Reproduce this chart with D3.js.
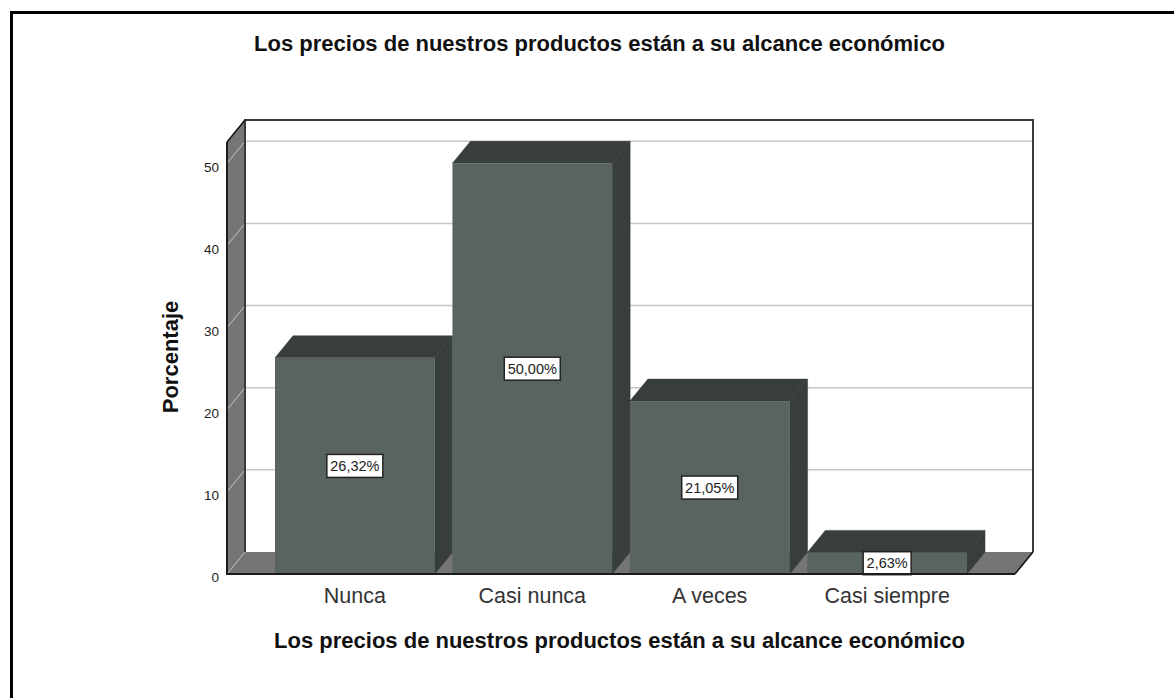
<!DOCTYPE html>
<html lang="es">
<head>
<meta charset="utf-8">
<title>Porcentaje por categoría</title>
<script src="https://cdn.jsdelivr.net/npm/d3@7/dist/d3.min.js"></script>
<style>
  html, body { margin: 0; padding: 0; background: #fff; }
  svg { display: block; font-family: "Liberation Sans", Arial, sans-serif; }
</style>
</head>
<body>
<svg id="chart" width="1174" height="698"></svg>
<script>
const titleText = "Los precios de nuestros productos están a su alcance económico";
const yAxisTitle = "Porcentaje";
const categories = ["Nunca", "Casi nunca", "A veces", "Casi siempre"];
const percentages = [26.32, 50.00, 21.05, 2.63];
const valueLabels = ["26,32%", "50,00%", "21,05%", "2,63%"];
const yTicks = [0, 10, 20, 30, 40, 50];
const yTop = 52.6;

const svg = d3.select("#chart");

// Oblique projection: depth shifts a point right and up.
const depthX = 18, depthY = 22;
const frontLeft = 227, frontRight = 1015;
const y = d3.scaleLinear().domain([0, yTop]).range([574, 142]);
const x = d3.scaleBand().domain(categories).range([275, 967]).paddingInner(0.1).paddingOuter(0);

const poly = pts => pts.map(p => p.join(",")).join(" ");
const wallGrey = "#757575", face = "#5a645e", shade = "#383e39", edge = "#3a3a3a";

// Outer frame: only the top and left rules are present.
svg.append("path").attr("d", "M11.5,698V12.5H1174")
  .attr("fill", "none").attr("stroke", "#000").attr("stroke-width", 3);

// Back wall
svg.append("rect")
  .attr("x", frontLeft + depthX).attr("y", y(yTop) - depthY)
  .attr("width", frontRight - frontLeft).attr("height", y(0) - y(yTop))
  .attr("fill", "#fff");

// Left wall and floor
svg.append("polygon").attr("fill", wallGrey).attr("points", poly([
  [frontLeft, y(yTop)], [frontLeft + depthX, y(yTop) - depthY],
  [frontLeft + depthX, y(0) - depthY], [frontLeft, y(0)]]));
svg.append("polygon").attr("fill", wallGrey).attr("points", poly([
  [frontLeft, y(0)], [frontLeft + depthX, y(0) - depthY],
  [frontRight + depthX, y(0) - depthY], [frontRight, y(0)]]));

// Gridlines run across the back wall and down the left wall
const grid = svg.append("g").attr("fill", "none").attr("stroke", "#c6c6c6");
yTicks.filter(t => t > 0).forEach(t => {
  grid.append("line")
    .attr("x1", frontLeft + depthX).attr("x2", frontRight + depthX)
    .attr("y1", y(t) - depthY).attr("y2", y(t) - depthY)
    .attr("stroke-width", 1.5);
  grid.append("line")
    .attr("x1", frontLeft).attr("y1", y(t))
    .attr("x2", frontLeft + depthX).attr("y2", y(t) - depthY)
    .attr("stroke-width", 1);
});
svg.append("line").attr("stroke", "#bdbdbd")
  .attr("x1", frontLeft).attr("y1", y(0))
  .attr("x2", frontLeft + depthX).attr("y2", y(0) - depthY);

// Wall outlines
svg.append("path").attr("fill", "none").attr("stroke", edge).attr("stroke-width", 2)
  .attr("d", `M${frontLeft + depthX},${y(0) - depthY}V${y(yTop) - depthY}H${frontRight + depthX}V${y(0) - depthY}`);
svg.append("path").attr("fill", "none").attr("stroke", "#111").attr("stroke-width", 1.5)
  .attr("d", `M${frontLeft},${y(yTop)}L${frontLeft + depthX},${y(yTop) - depthY}`);
svg.append("path").attr("fill", "none").attr("stroke", "#111").attr("stroke-width", 1.5)
  .attr("d", `M${frontRight},${y(0)}L${frontRight + depthX},${y(0) - depthY}`);

// Bars: side and top parallelograms, then the front face
const bars = svg.append("g").selectAll("g")
  .data(categories.map((c, i) => ({ c, v: percentages[i], label: valueLabels[i] })))
  .join("g");
bars.append("polygon").attr("fill", shade).attr("stroke", "#343a35").attr("stroke-width", 0.5)
  .attr("points", d => {
    const r = x(d.c) + x.bandwidth();
    return poly([[r, y(d.v)], [r + depthX, y(d.v) - depthY], [r + depthX, y(0) - depthY], [r, y(0)]]);
  });
bars.append("polygon").attr("fill", shade).attr("stroke", "#343a35").attr("stroke-width", 0.5)
  .attr("points", d => {
    const l = x(d.c), r = l + x.bandwidth();
    return poly([[l, y(d.v)], [l + depthX, y(d.v) - depthY], [r + depthX, y(d.v) - depthY], [r, y(d.v)]]);
  });
bars.append("rect").attr("fill", face)
  .attr("x", d => x(d.c)).attr("y", d => y(d.v))
  .attr("width", x.bandwidth()).attr("height", d => y(0) - y(d.v));

// Front baseline and y axis
svg.append("path").attr("fill", "none").attr("stroke", "#1c1c1c").attr("stroke-width", 2)
  .attr("d", `M${frontLeft},${y(yTop)}V${y(0)}H${frontRight}`);

const yAxis = svg.append("g").attr("transform", `translate(${frontLeft},0)`)
  .call(d3.axisLeft(y).tickValues(yTicks).tickSize(0).tickPadding(8));
yAxis.select(".domain").remove();
yAxis.selectAll("text").attr("font-family", "Liberation Sans, Arial, sans-serif")
  .attr("font-size", 13.5).attr("fill", "#222").attr("dy", "0.72em").attr("y", -2);

// Category labels use a band scale axis under the front baseline
const xAxis = svg.append("g").attr("transform", `translate(0,${y(0)})`)
  .call(d3.axisBottom(x).tickSize(0).tickPadding(14));
xAxis.select(".domain").remove();
xAxis.selectAll("text").attr("font-family", "Liberation Sans, Arial, sans-serif")
  .attr("font-size", 21.5).attr("fill", "#333");

// Value labels sit at the middle of each front face
const tags = bars.append("g")
  .attr("transform", d => `translate(${x(d.c) + x.bandwidth() / 2},${(y(d.v) + y(0)) / 2})`);
tags.append("rect")
  .attr("x", d => d.label.length > 5 ? -28 : -24).attr("y", -11.5)
  .attr("width", d => d.label.length > 5 ? 56 : 48).attr("height", 23)
  .attr("fill", "#fff").attr("stroke", "#222").attr("stroke-width", 1.5);
tags.append("text").attr("text-anchor", "middle").attr("y", 5)
  .attr("font-size", 14.5).attr("fill", "#222").text(d => d.label);

// Titles
svg.append("text").attr("x", 599.5).attr("y", 51).attr("text-anchor", "middle")
  .attr("font-size", 22).attr("font-weight", "bold").attr("fill", "#111").text(titleText);
svg.append("text").attr("x", 619.5).attr("y", 648).attr("text-anchor", "middle")
  .attr("font-size", 22).attr("font-weight", "bold").attr("fill", "#111").text(titleText);
svg.append("text").attr("transform", "translate(178,357) rotate(-90)").attr("text-anchor", "middle")
  .attr("font-size", 22).attr("font-weight", "bold").attr("fill", "#111").text(yAxisTitle);
</script>
</body>
</html>
